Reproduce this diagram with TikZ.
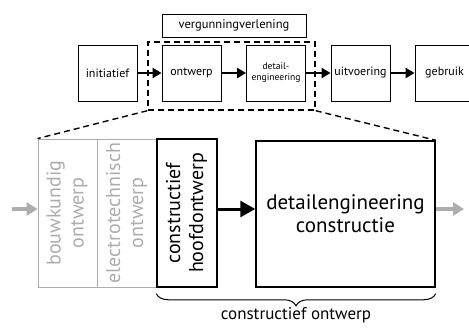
\documentclass[tikz,border=0pt]{standalone}
\usepackage{fontspec}
\setmainfont{PT Sans}
\usetikzlibrary{arrows.meta,decorations.pathreplacing}
\definecolor{lichtgrijs}{gray}{0.68}
\newcommand{\staand}[1]{\rotatebox{90}{\begin{tabular}{@{}c@{}}#1\end{tabular}}}
\tikzset{
  fase/.style={draw,line width=0.8pt,minimum width=59pt,minimum height=56pt,
    inner sep=1pt,align=center,font=\fontsize{12}{13}\selectfont},
  stroom/.style={-{Triangle[length=9pt,width=10pt]},line width=2.8pt},
  deel/.style={draw,minimum height=148pt,inner sep=1pt,align=center,
    font=\fontsize{20}{23}\selectfont},
  grijspijl/.style={-{Triangle[length=11pt,width=13pt]},line width=3.2pt,lichtgrijs},
  kader/.style={draw,dashed,line width=1.4pt,dash pattern=on 6pt off 4pt}
}
\begin{document}
\begin{tikzpicture}[font=\sffamily]
\useasboundingbox (0,0) rectangle (469pt,-327pt);
\begin{scope}[x=1pt,y=-1pt]
  % bovenste rij: bouwproces
  \node[fase] (init) at (107.5,73) {initiatief};
  \node[fase] (ontw) at (191.5,73) {ontwerp};
  \node[fase,font=\fontsize{9.6}{11}\selectfont] (deta) at (276,73) {detail-\\engineering};
  \node[fase] (uitv) at (360.5,73) {uitvoering};
  \node[fase] (gebr) at (444.5,73) {gebruik};
  \node[draw,line width=0.8pt,minimum width=144pt,minimum height=23pt,
    font=\fontsize{12.5}{13}\selectfont] (verg) at (234,25.5) {vergunningverlening};
  \node[kader,minimum width=167pt,minimum height=68pt] (zoom) at (231.5,76) {};
  \draw[stroom] (init) -- (ontw);
  \draw[stroom] (ontw) -- (deta);
  \draw[stroom] (deta) -- (uitv);
  \draw[stroom] (uitv) -- (gebr);
  % onderste rij: uitvergroting ontwerpfase
  \node[deel,draw=lichtgrijs,text=lichtgrijs,line width=0.9pt,minimum width=59pt]
    (bouw) at (67.5,213) {\staand{bouwkundig\\ontwerp}};
  \node[deel,draw=lichtgrijs,text=lichtgrijs,line width=0.9pt,minimum width=60pt]
    (elek) at (127,213) {\staand{electrotechnisch\\ontwerp}};
  \node[deel,line width=1.5pt,minimum width=60pt] (hoofd) at (187,213)
    {\staand{constructief\\hoofdontwerp}};
  \node[deel,line width=1.5pt,minimum width=179pt,minimum height=146pt,
    font=\fontsize{21}{23}\selectfont] (dtl) at (345.5,214)
    {detailengineering\\constructie};
  \draw[kader] (zoom.south west) -- (bouw.north west);
  \draw[kader] (zoom.south east) -- (dtl.north east);
  \coordinate (in) at (12,209);
  \coordinate (uit) at (464,209);
  \draw[grijspijl] (in) -- (in -| bouw.west);
  \draw[-{Triangle[length=15pt,width=16pt]},line width=3pt] (hoofd.east |- in) -- (dtl.west |- in);
  \draw[grijspijl] (dtl.east |- uit) -- (uit);
  \draw[decorate,decoration={brace,mirror,amplitude=12pt},line width=1pt]
    ([yshift=-6pt]hoofd.south west) -- ([yshift=-6pt]dtl.south east)
    node[midway,below=10pt,font=\fontsize{17}{19}\selectfont] {constructief ontwerp};
\end{scope}
\end{tikzpicture}
\end{document}
